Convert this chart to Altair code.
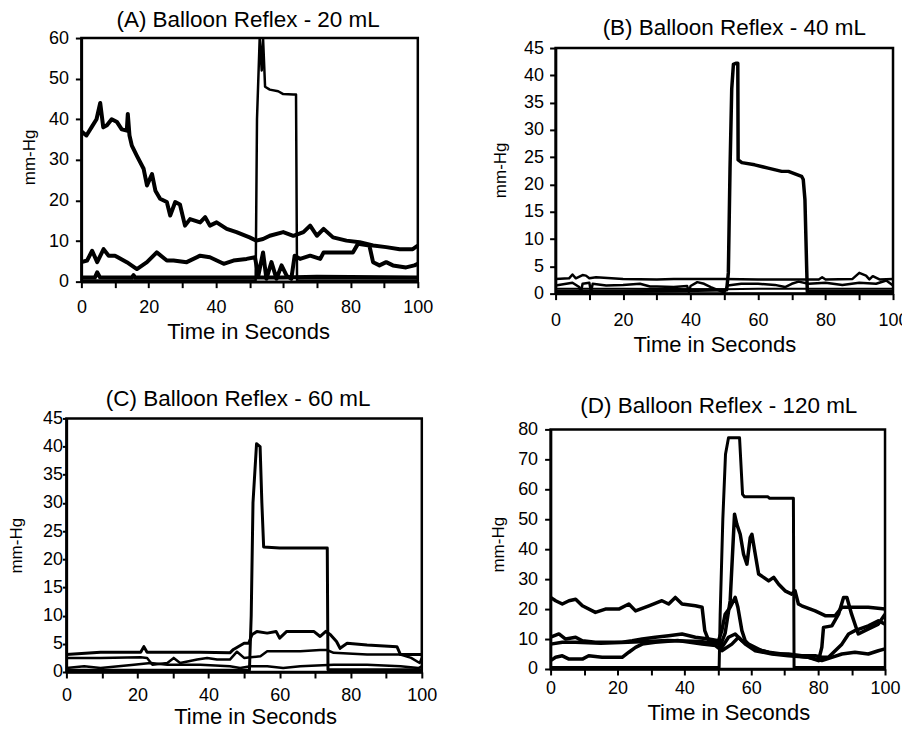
import altair as alt
import pandas as pd

FONT = "Liberation Sans"

# ---------------- Panel A (20 mL) ----------------
A_bal_t = [0, 51.8, 52.2, 53.0, 53.6, 54.0, 54.6, 56, 58.5, 60, 63, 63.8, 64.1, 100]
A_bal_p = [0.3, 0.3, 40, 60, 52, 60, 48, 47.3, 46.9, 46.2, 46.1, 46.1, 0.3, 0.3]

A_big_t = [0, 1.5, 3, 4.5, 5.6, 6.5, 7.6, 9, 10.6, 12, 13.5, 13.8, 14.3, 15, 16.5, 18.5, 19.5, 21, 22,
           23.4, 25.4, 26.4, 27.9, 29.3, 30.8, 32.3, 35.3, 36.8, 38.2, 40.2, 43.2, 46.1, 50, 52, 54,
           56, 60, 63, 66, 68, 70, 72, 74.8, 78.8, 82.7, 86.7, 90.6, 94.6, 98.5, 100]
A_big_p = [37, 36, 38, 40, 44, 38, 38.5, 40, 39.3, 37.5, 37.2, 41.3, 36, 33.5, 31, 27.8, 23.7, 26.5, 22.4,
           20.4, 19.6, 16.3, 19.6, 19, 13.8, 15.4, 14.6, 15.9, 13.8, 14.6, 13, 12.2, 10.9, 10.1, 10.5,
           11.3, 12.2, 11.3, 12.2, 13.8, 11.3, 13, 10.9, 10.1, 9.7, 8.9, 8.5, 8, 8, 8.9]

A_mid_t = [0, 1.7, 3.2, 4.7, 6.6, 8.1, 10, 13.5, 16.5, 19.5, 22.4, 25.4, 27.4, 31.3, 35.3, 38.2, 42.3,
           45.2, 49.1, 51.6, 52.6, 54, 55, 56.5, 58, 59.5, 61, 62.4, 63.4, 65, 68, 71, 72, 74.8, 80.7,
           82.2, 85.6, 86.7, 88.6, 90.6, 92.6, 96.5, 99, 100]
A_mid_p = [4.8, 5.2, 7.6, 4.8, 8, 6.4, 6.4, 4.8, 3.1, 4.8, 7.2, 5.2, 5.2, 4.8, 6.4, 6, 4.4,
           5.2, 5.6, 6, 1.5, 7.2, 0.7, 4.8, 0.7, 4, 1.5, 0.7, 6.4, 5.6, 6.4, 5.6, 7.2, 7.2, 7.2,
           9.3, 8.9, 4.8, 4, 4.8, 4, 3.5, 4, 4.4]

A_low_t = [0, 4, 4.7, 5.5, 15, 15.5, 16, 40, 60, 70, 100]
A_low_p = [1, 1, 2.3, 1.1, 1, 1.6, 1, 1, 1, 1.2, 1]

# ---------------- Panel B (40 mL) ----------------
B_bal_t = [0, 20, 50.7, 51.2, 51.7, 52.2, 52.7, 53.4, 54, 54.1, 55.2, 59, 63, 67, 69, 72.9, 73.4, 73.9,
           74.4, 74.6, 100]
B_bal_p = [0.4, 0.4, 0.7, 3.8, 23, 37.5, 42, 42.2, 42.2, 24.5, 24, 23.6, 23, 22.4, 22.4, 21.5, 20.9, 17.2,
           5, 0.4, 0.4]

B_up_t = [0, 4, 5, 6, 8, 9, 10, 12, 20, 30, 35, 50, 60, 70, 78, 79, 80, 88, 90, 92, 93, 94, 96, 100]
B_up_p = [2.7, 2.8, 3.5, 2.8, 3.4, 3.3, 2.8, 3, 2.7, 2.6, 2.7, 2.7, 2.6, 2.6, 2.6, 3.0, 2.6, 2.7, 3.8,
          3.3, 2.6, 3.2, 2.6, 2.7]

B_mid_t = [0, 5, 7, 7.5, 8, 10, 10.5, 11, 15, 20, 25, 28, 30, 35, 39, 39.5, 40, 42, 44, 46, 48, 50, 51,
           55, 60, 65, 68, 70, 72, 75, 80, 85, 90, 95, 98, 100]
B_mid_p = [1.5, 2, 1.2, 0.2, 1.8, 2, 0.3, 1.8, 1.5, 1.6, 1.8, 1.3, 1.3, 1.2, 1.4, 0.3, 1.4, 2.1, 1.8,
           1.2, 0.7, 0.2, 1.5, 1.8, 1.8, 1.6, 1.2, 1.8, 2.2, 1.8, 2, 1.6, 2, 1.8, 2.4, 1.5]

B_low_t = [0, 20, 50, 60, 100]
B_low_p = [0.9, 0.9, 0.8, 0.9, 0.9]

# ---------------- Panel C (60 mL) ----------------
C_bal_t = [0, 51.5, 52, 52.5, 53.5, 54.5, 55, 55.5, 60, 73.4, 73.6, 100]
C_bal_p = [0.3, 0.3, 10, 30, 40.5, 40, 30, 22.2, 22, 22, 0.4, 0.4]

C_up_t = [0, 9.6, 20.9, 21.8, 22.7, 37.7, 46, 47, 50, 51.3, 52.2, 53.6, 56.5, 59, 60, 62, 65.8, 69.6,
          71.4, 73, 74.3, 76, 77, 79, 84.6, 93, 94, 100]
C_up_p = [3.1, 3.5, 3.5, 4.5, 3.5, 3.5, 3.4, 4, 5.1, 5.1, 6.6, 7.2, 6.9, 7.2, 6, 7.2, 7.2, 7.2,
          6.3, 7.2, 6.6, 5.4, 4.2, 5.1, 4.8, 4.5, 3.1, 3.1]

C_mid_t = [0, 9.6, 20.9, 22.7, 24.2, 28.4, 30.2, 32, 36.8, 39.6, 42.4, 46, 48, 50, 51.8, 54.6, 56.5, 61,
           65.8, 71.4, 73.3, 75.2, 84.6, 94, 97, 99.4, 100]
C_mid_p = [2.5, 2.5, 2.6, 2.5, 1.3, 1.6, 2.5, 1.6, 2.2, 2.5, 2.2, 2.2, 3.6, 2.5, 2.6, 2.8, 3.7, 3.7,
           3.7, 3.9, 3.9, 3.4, 3.1, 3.1, 2.5, 1.6, 2.5]

C_low_t = [0, 5, 9.6, 19, 23.7, 28.4, 37.7, 46, 48.9, 51.8, 56.5, 61, 65.8, 75.2, 84.6, 94, 99, 100]
C_low_p = [0.7, 1, 0.7, 1.3, 1.6, 1.3, 1.3, 1, 0.7, 1, 1, 0.7, 1, 1.3, 1.3, 1, 0.7, 1]

# ---------------- Panel D (120 mL) ----------------
D_bal_t = [0, 50.4, 50.7, 51.5, 52.3, 53.2, 56.5, 57.4, 58, 65, 65.5, 72.6, 72.8, 100]
D_bal_p = [0.5, 0.5, 18, 50, 71.7, 77.2, 77.2, 58.3, 57.5, 57.5, 57, 57, 0.5, 0.5]

D_top_t = [0, 1.5, 3.5, 5.5, 7.5, 9.5, 13.4, 16.4, 20.4, 23.4, 25.4, 29.4, 33.3, 35.3, 37.3, 39.3, 43.3,
           45.3, 46.1, 47.3, 49, 51, 52.2, 53.7, 55, 55.7, 56.7, 57.7, 58.7, 59.7, 60.2, 61.2, 62.2,
           63.7, 65.2, 66.7, 68.2, 70.1, 72.1, 73.1, 74.1, 75.1, 79.1, 82.1, 85.1, 87.1, 89.1, 91, 95, 100]
D_top_p = [23.9, 22.8, 21.7, 22.8, 23.3, 21.1, 18.9, 20, 20, 21.7, 19.4, 21.1, 22.8, 21.7, 23.9, 21.7, 21.1,
           20.6, 12.8, 9.4, 9, 8.5, 12, 22.8, 51.7, 48.3, 45, 38.3, 35, 43.9, 45, 38.3, 31.7,
           30.6, 29.4, 30.6, 28.3, 26.1, 25, 26.1, 21.7, 21.1, 19.4, 17.8, 17.8, 20.6, 20.6, 20.6, 20.6, 20]

D_b_t = [0, 2.5, 4.5, 7.5, 9.5, 13.4, 17.4, 21.4, 24.4, 27.4, 31.3, 35.3, 39.3, 43.3, 47.3, 50.2, 51.2,
         52.2, 53.7, 55.2, 56, 57.2, 58.2, 59.2, 63.2, 67.2, 71.1, 75.1, 79.1, 81.1, 83.1, 85.1, 87.1,
         89.1, 91, 95, 98, 100]
D_b_p = [10.6, 11.7, 10, 10.6, 9.4, 8.9, 8.9, 8.9, 9.4, 10, 10.6, 11.1, 11.7, 10.6, 10, 9.4, 12.8,
         18.3, 20.6, 23.9, 20.6, 12.8, 9.4, 8.3, 6.1, 5, 5, 4.4, 4.4, 3.9, 3.9, 6.1, 8.3,
         11.7, 12.8, 14.4, 16.1, 15]

D_c_t = [0, 3.5, 7.5, 15, 25, 35, 45, 50.2, 51.2, 53.2, 55.2, 57.2, 61.2, 65.2, 69.2, 73.1, 77.1, 80.1,
         81.1, 81.6, 84.1, 86.1, 87.6, 88.6, 90, 92, 94, 96, 98, 100]
D_c_p = [8.3, 8.9, 8.9, 8.6, 9, 9.5, 9.2, 8.3, 7.2, 10.6, 11.7, 9.4, 6.7, 5.6, 5, 4.4, 3.9, 2.8,
         7.2, 13.9, 14.4, 18.3, 23.9, 23.9, 18.3, 11.7, 12.8, 13.9, 15, 18.3]

D_low_t = [0, 1.5, 3.5, 5.5, 9.5, 11.4, 15.4, 19.4, 21.4, 23.4, 25.4, 27.4, 31.3, 38, 45.3, 49.3, 51.2,
           54.2, 56.2, 58.2, 61.2, 66.2, 71.1, 77.1, 81.1, 84.1, 87.1, 91, 95, 98, 100]
D_low_p = [2.8, 3.9, 4.4, 3.3, 3.3, 4.4, 3.9, 3.9, 3.9, 5.6, 7.2, 8.3, 8.9, 9.5, 8.3, 7.8, 6.1,
           8.3, 10.6, 8.3, 6.1, 5, 4.4, 3.9, 2.8, 3.9, 5, 5.6, 5, 6.1, 6.7]


def frame(traces):
    rows = []
    for name, ts, ps, w in traces:
        for i, (t, p) in enumerate(zip(ts, ps)):
            rows.append({"trace": name, "i": i, "t": t, "p": p, "w": w})
    return pd.DataFrame(rows)


def panel(traces, ymax, ystep, title, W, H, title_offset, title_dx,
          xt_x, xt_y, yt_x, yt_y, x_lab_pad, y_lab_pad, y_tick=6):
    df = frame(traces)
    xvals = list(range(0, 101, 10))
    yvals = list(range(0, ymax + 1, ystep))
    return (
        alt.Chart(df)
        .mark_line(color="black", clip=True, strokeJoin="round", strokeCap="butt")
        .encode(
            x=alt.X("t:Q", scale=alt.Scale(domain=[0, 100], nice=False, zero=False),
                    axis=alt.Axis(values=xvals, title="Time in Seconds",
                                  labelExpr="datum.value % 20 == 0 ? datum.label : ''",
                                  titleX=xt_x, titleY=xt_y, titleBaseline="alphabetic",
                                  titleAlign="center", titleFontSize=22,
                                  labelPadding=x_lab_pad)),
            y=alt.Y("p:Q", scale=alt.Scale(domain=[0, ymax], nice=False, zero=True),
                    axis=alt.Axis(values=yvals, title="mm-Hg",
                                  titleX=yt_x, titleY=yt_y, titleBaseline="alphabetic",
                                  titleAlign="center", titleAngle=270, titleFontSize=17,
                                  labelPadding=y_lab_pad, tickSize=y_tick)),
            detail="trace:N",
            order="i:Q",
            strokeWidth=alt.StrokeWidth("w:Q", scale=None),
        )
        .properties(
            width=W, height=H,
            title=alt.TitleParams(title, fontSize=22.5, font=FONT, fontWeight="normal",
                                  color="black", offset=title_offset, dx=title_dx,
                                  anchor="middle"),
        )
    )


def spacer(w, h):
    return (
        alt.Chart(pd.DataFrame({"a": [0]}))
        .mark_rect(opacity=0)
        .encode(x=alt.value(0), x2=alt.value(w), y=alt.value(0), y2=alt.value(h))
        .properties(width=w, height=h, view=alt.ViewBackground(stroke="transparent"))
    )


pA = panel([("bal", A_bal_t, A_bal_p, 2.5), ("big", A_big_t, A_big_p, 4),
            ("mid", A_mid_t, A_mid_p, 4), ("low", A_low_t, A_low_p, 4)],
           60, 10, "(A) Balloon Reflex - 20 mL", 337, 244, -2, -1.5,
           167, 57, -47, 119, 11, 7)
pB = panel([("bal", B_bal_t, B_bal_p, 3.5), ("up", B_up_t, B_up_p, 2.5),
            ("mid", B_mid_t, B_mid_p, 2.5), ("low", B_low_t, B_low_p, 2)],
           45, 5, "(B) Balloon Reflex - 40 mL", 338, 246, 0, 10,
           159, 58, -50.5, 122, 12, 6)
pC = panel([("bal", C_bal_t, C_bal_p, 3), ("up", C_up_t, C_up_p, 3),
            ("mid", C_mid_t, C_mid_p, 2.5), ("low", C_low_t, C_low_p, 2.5)],
           45, 5, "(C) Balloon Reflex - 60 mL", 356, 254, -1, -6,
           189, 52, -44.5, 127, 9, 0, y_tick=4)
pD = panel([("bal", D_bal_t, D_bal_p, 3), ("top", D_top_t, D_top_p, 3.5),
            ("b", D_b_t, D_b_p, 3.5), ("c", D_c_t, D_c_p, 3.5), ("low", D_low_t, D_low_p, 3.5)],
           80, 10, "(D) Balloon Reflex - 120 mL", 335, 240, 3, 1,
           178, 51, -47, 115, 5, 7)

# invisible spacers position each panel independently
left_col = alt.vconcat(
    spacer(1, 1),
    alt.hconcat(spacer(13, 1), pA, spacing=0),
    spacer(1, 38),
    alt.hconcat(spacer(1, 1), pC, spacing=0),
    spacing=0,
)
right_col = alt.vconcat(
    spacer(1, 9),
    alt.hconcat(spacer(47, 1), pB, spacing=0),
    spacer(1, 32),
    alt.hconcat(spacer(45, 1), pD, spacing=0),
    spacing=0,
)

chart = (
    alt.hconcat(left_col, right_col, spacing=0)
    .properties(padding={"left": -6.5, "top": -6.5, "right": -8, "bottom": -5})
    .configure_view(stroke="black", strokeWidth=2.5)
    .configure_axis(
        labelFont=FONT, titleFont=FONT, labelFontSize=18, labelColor="black",
        titleColor="black", titleFontWeight="normal", domainColor="black", domainWidth=2.5,
        tickColor="black", tickWidth=2, tickSize=6, grid=False, labelFlush=False,
        labelOverlap=False,
    )
    .configure_title(font=FONT)
)

chart.save("out.html", embed_options={"renderer": "svg", "actions": False})
